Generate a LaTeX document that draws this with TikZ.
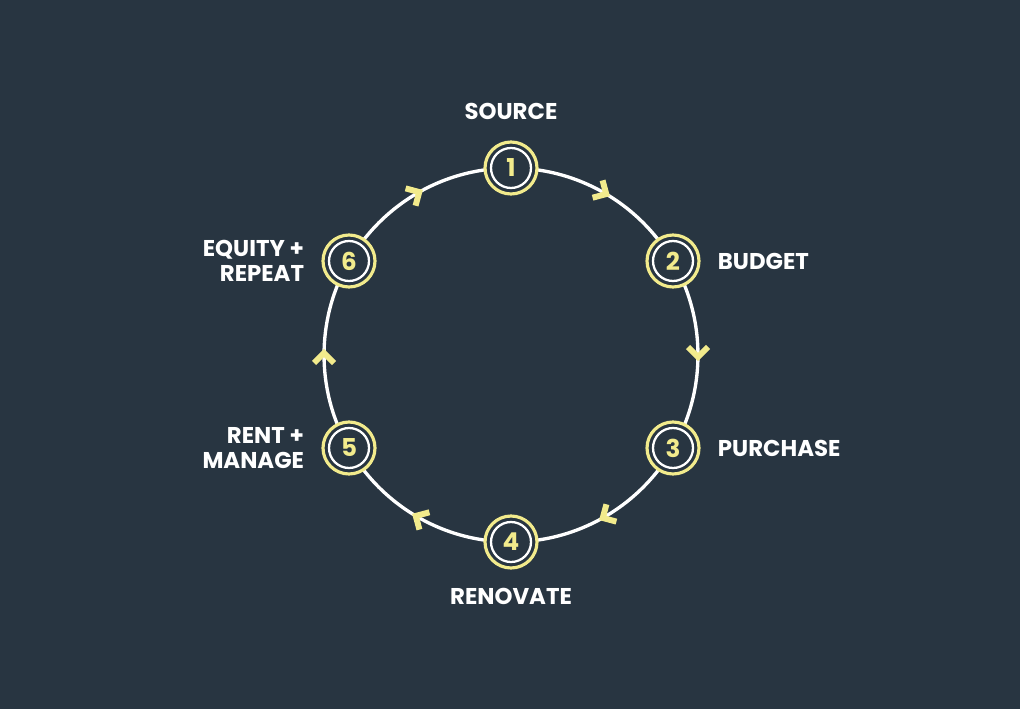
\documentclass[tikz,border=0pt]{standalone}
\usepackage{fontspec}
\setmainfont{Poppins}[UprightFont=* Bold]
\usetikzlibrary{positioning}
\definecolor{bgdark}{HTML}{283541}
\definecolor{pale}{HTML}{F2EB8C}
\begin{document}
\begin{tikzpicture}[x=0.02cm,y=-0.02cm,
  stepnode/.style={circle, draw=pale, line width=1.8pt, fill=bgdark, minimum size=1.04cm, inner sep=0pt,
    text=pale, font=\fontsize{14}{14}\selectfont},
  labeltext/.style={text=white, font=\fontsize{13}{14.5}\selectfont, inner sep=0pt},
  chevron/.style={pale, line width=3.4pt}]
  \fill[bgdark] (0,0) rectangle (1020,709);
  \draw[white, line width=1.9pt] (511,355) circle (3.74cm);
  % chevrons between the steps
  \foreach \a in {60,0,-60,-120,180,120}{
    \draw[chevron, shift={(511,355)}, rotate=\a] (177,-8) -- (187,2) -- (197,-8);
  }
  \node[stepnode] (s1) at (511,168) {1};
  \node[stepnode] (s2) at (673,261) {2};
  \node[stepnode] (s3) at (673,448) {3};
  \node[stepnode] (s4) at (511,542) {4};
  \node[stepnode] (s5) at (349,448) {5};
  \node[stepnode] (s6) at (349,261) {6};
  \foreach \n in {s1,s2,s3,s4,s5,s6}{
    \draw[white, line width=1.3pt] (\n.center) circle (0.4cm);
  }
  \node[labeltext, above=0.4cm of s1] (l1) {SOURCE};
  \node[labeltext, right=0.34cm of s2] (l2) {BUDGET};
  \node[labeltext, right=0.34cm of s3] (l3) {PURCHASE};
  \node[labeltext, below=0.36cm of s4] (l4) {RENOVATE};
  \node[labeltext, left=0.34cm of s5, align=right] (l5) {RENT +\\MANAGE};
  \node[labeltext, left=0.34cm of s6, align=right] (l6) {EQUITY +\\REPEAT};
\end{tikzpicture}
\end{document}
